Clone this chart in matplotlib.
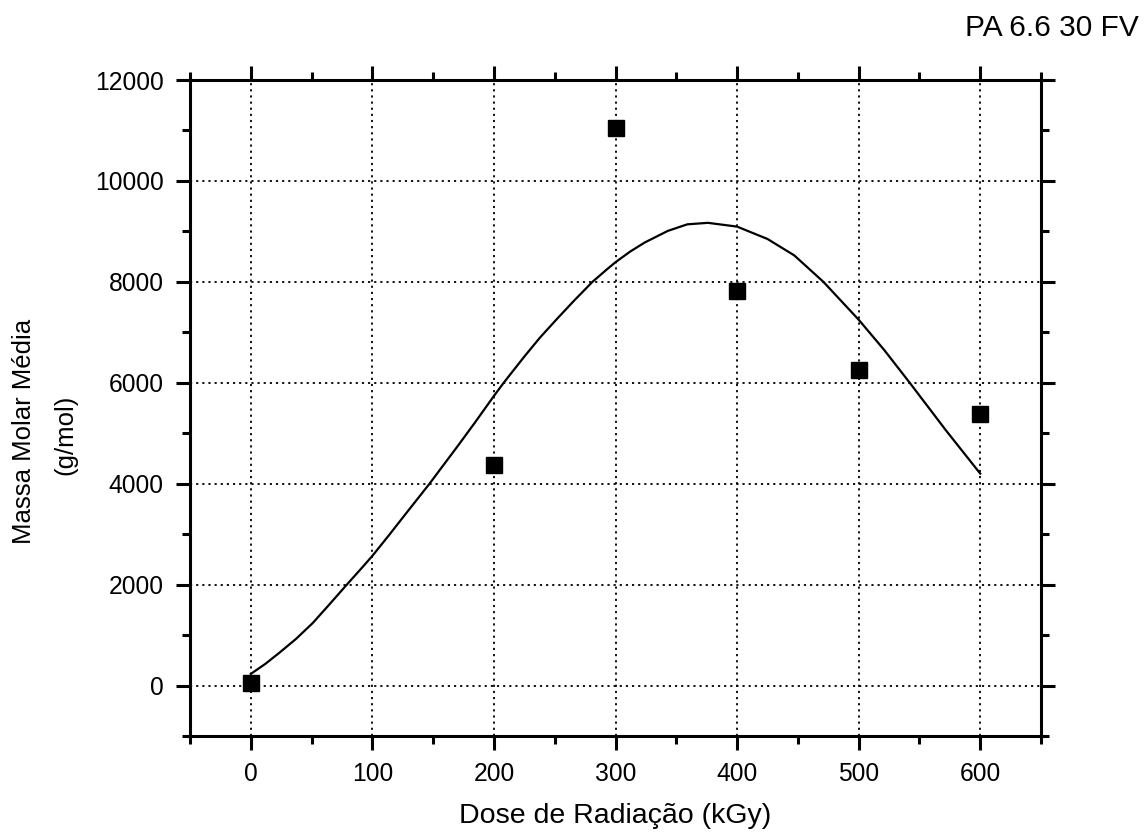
import matplotlib.pyplot as plt
import numpy as np
from matplotlib.ticker import MultipleLocator

plt.rcParams['font.family'] = ['Liberation Sans', 'DejaVu Sans']

# measured molar mass per dose
dose = [0, 200, 300, 400, 500, 600]
massa = [50, 4380, 11050, 7810, 6260, 5380]

# fitted curve, sampled along the dose axis
fit_x = [0, 12, 23, 37, 51, 64, 79, 92, 100, 114, 127, 147, 156, 170, 184,
         200, 208, 225, 238, 252, 266, 281, 293, 300, 312, 324, 343, 359,
         376, 400, 425, 447, 471, 500, 521, 542, 572, 600]
fit_y = [230, 430, 640, 920, 1240, 1590, 2000, 2350, 2570, 2990, 3390, 4000,
         4290, 4740, 5200, 5740, 6000, 6520, 6900, 7270, 7630, 8000, 8250,
         8390, 8600, 8780, 9010, 9140, 9170, 9095, 8850, 8525, 8000, 7250,
         6650, 6000, 5050, 4200]

fig = plt.figure(figsize=(11.44, 8.32), dpi=100)
ax = fig.add_axes([0.1661, 0.1154, 0.7439, 0.7884])

ax.plot(fit_x, fit_y, color='black', lw=1.6, zorder=3)
ax.plot(dose, massa, ls='none', marker='s', ms=11, color='black', zorder=4)

ax.set_xlim(-50, 650)
ax.set_ylim(-1000, 12000)
ax.xaxis.set_minor_locator(MultipleLocator(50))
ax.yaxis.set_minor_locator(MultipleLocator(1000))
ax.set_xticks(np.arange(0, 700, 100))
ax.set_yticks(np.arange(0, 14000, 2000))

ax.grid(True, which='major', ls=(0, (1.2, 2.2)), color='black', lw=1.3)

for s in ax.spines.values():
    s.set_linewidth(2.2)

ax.tick_params(which='both', direction='out', top=True, right=True,
               width=2.2, labelsize=17.7, pad=9)
ax.tick_params(which='major', length=10)
ax.tick_params(which='minor', length=6)

ax.set_xlabel('Dose de Radiação (kGy)', fontsize=20.5, labelpad=12)

# two-line y title, each line placed on its own
fig.text(0.021, 0.481, 'Massa Molar Média', fontsize=18.5, rotation=90,
         ha='center', va='center')
fig.text(0.057, 0.477, '(g/mol)', fontsize=18.5, rotation=90,
         ha='center', va='center')

fig.text(0.995, 0.966, 'PA 6.6 30 FV', fontsize=21.5, ha='right', va='center')

fig.savefig('out.png', dpi=100)
